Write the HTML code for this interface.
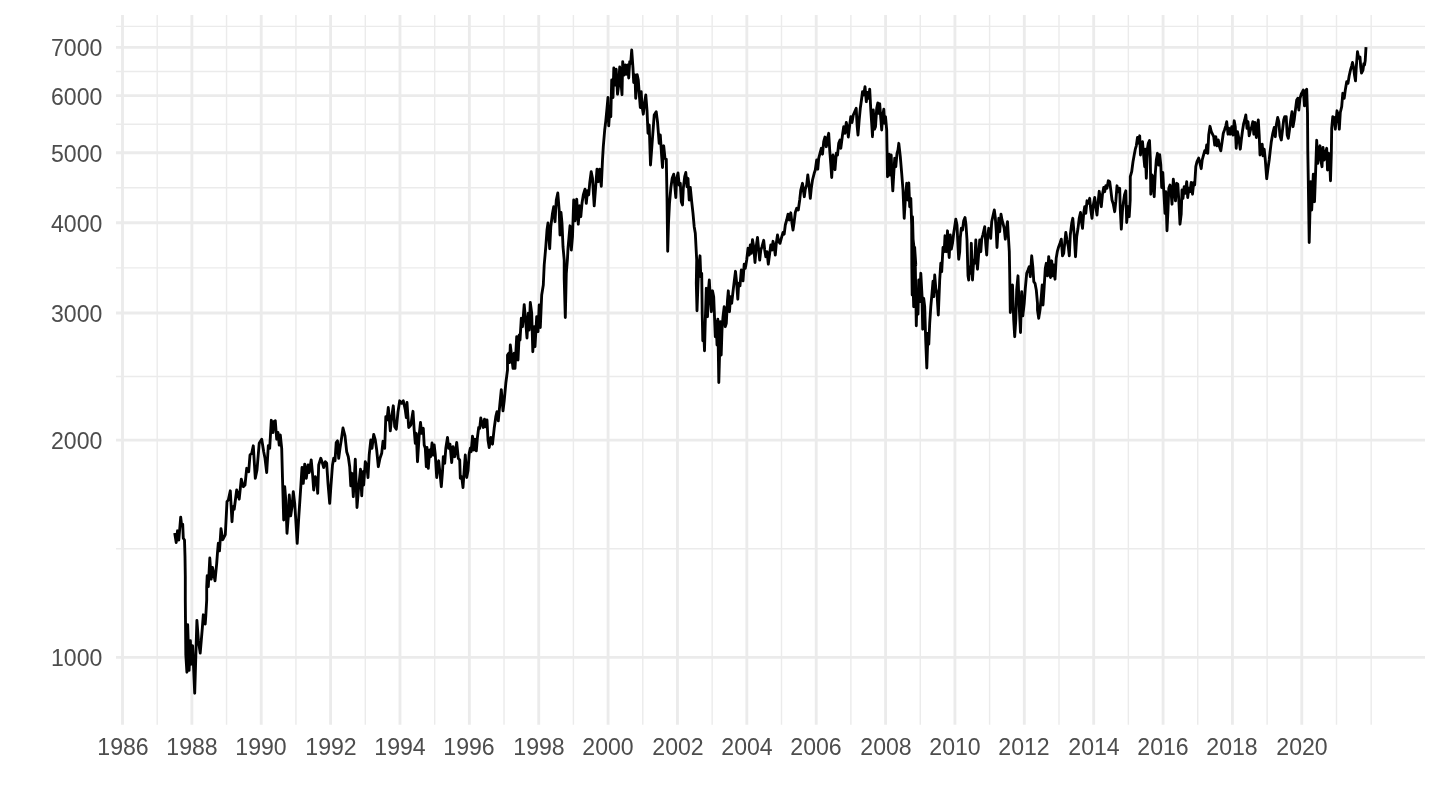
<!DOCTYPE html><html><head><meta charset="utf-8"><style>
html,body{margin:0;padding:0;background:#fff;}body{width:1440px;height:810px;overflow:hidden;position:relative;font-family:"Liberation Sans",sans-serif;}
svg{position:absolute;left:0;top:0;}
.yl{will-change:transform;position:absolute;right:1337.8px;font-size:23.1px;color:#4d4d4d;line-height:24px;height:24px;white-space:nowrap;}
.xl{will-change:transform;position:absolute;top:734.5px;font-size:23.1px;color:#4d4d4d;line-height:24px;height:24px;width:80px;margin-left:-40px;text-align:center;white-space:nowrap;}
</style></head><body>
<svg width="1440" height="810" viewBox="0 0 1440 810">
<rect width="1440" height="810" fill="#fff"/>
<g stroke="#ebebeb" fill="none" stroke-linecap="butt">
<path stroke-width="1.42" d="M116.0 548.74H1425.0"/>
<path stroke-width="1.42" d="M116.0 376.52H1425.0"/>
<path stroke-width="1.42" d="M116.0 267.85H1425.0"/>
<path stroke-width="1.42" d="M116.0 187.78H1425.0"/>
<path stroke-width="1.42" d="M116.0 124.21H1425.0"/>
<path stroke-width="1.42" d="M116.0 71.47H1425.0"/>
<path stroke-width="1.42" d="M116.0 26.37H1425.0"/>
<path stroke-width="1.42" d="M157.19 15.0V724.7"/>
<path stroke-width="1.42" d="M226.56 15.0V724.7"/>
<path stroke-width="1.42" d="M295.93 15.0V724.7"/>
<path stroke-width="1.42" d="M365.30 15.0V724.7"/>
<path stroke-width="1.42" d="M434.67 15.0V724.7"/>
<path stroke-width="1.42" d="M504.04 15.0V724.7"/>
<path stroke-width="1.42" d="M573.40 15.0V724.7"/>
<path stroke-width="1.42" d="M642.78 15.0V724.7"/>
<path stroke-width="1.42" d="M712.14 15.0V724.7"/>
<path stroke-width="1.42" d="M781.52 15.0V724.7"/>
<path stroke-width="1.42" d="M850.88 15.0V724.7"/>
<path stroke-width="1.42" d="M920.26 15.0V724.7"/>
<path stroke-width="1.42" d="M989.62 15.0V724.7"/>
<path stroke-width="1.42" d="M1059.00 15.0V724.7"/>
<path stroke-width="1.42" d="M1128.37 15.0V724.7"/>
<path stroke-width="1.42" d="M1197.74 15.0V724.7"/>
<path stroke-width="1.42" d="M1267.11 15.0V724.7"/>
<path stroke-width="1.42" d="M1336.48 15.0V724.7"/>
<path stroke-width="1.42" d="M1371.16 15.0V724.7"/>
<path stroke-width="2.85" d="M116.0 657.40H1425.0"/>
<path stroke-width="2.85" d="M116.0 440.08H1425.0"/>
<path stroke-width="2.85" d="M116.0 312.95H1425.0"/>
<path stroke-width="2.85" d="M116.0 222.76H1425.0"/>
<path stroke-width="2.85" d="M116.0 152.79H1425.0"/>
<path stroke-width="2.85" d="M116.0 95.63H1425.0"/>
<path stroke-width="2.85" d="M116.0 47.30H1425.0"/>
<path stroke-width="2.85" d="M122.50 15.0V724.7"/>
<path stroke-width="2.85" d="M191.87 15.0V724.7"/>
<path stroke-width="2.85" d="M261.24 15.0V724.7"/>
<path stroke-width="2.85" d="M330.61 15.0V724.7"/>
<path stroke-width="2.85" d="M399.98 15.0V724.7"/>
<path stroke-width="2.85" d="M469.35 15.0V724.7"/>
<path stroke-width="2.85" d="M538.72 15.0V724.7"/>
<path stroke-width="2.85" d="M608.09 15.0V724.7"/>
<path stroke-width="2.85" d="M677.46 15.0V724.7"/>
<path stroke-width="2.85" d="M746.83 15.0V724.7"/>
<path stroke-width="2.85" d="M816.20 15.0V724.7"/>
<path stroke-width="2.85" d="M885.57 15.0V724.7"/>
<path stroke-width="2.85" d="M954.94 15.0V724.7"/>
<path stroke-width="2.85" d="M1024.31 15.0V724.7"/>
<path stroke-width="2.85" d="M1093.68 15.0V724.7"/>
<path stroke-width="2.85" d="M1163.05 15.0V724.7"/>
<path stroke-width="2.85" d="M1232.42 15.0V724.7"/>
<path stroke-width="2.85" d="M1301.79 15.0V724.7"/>
</g>
<path d="M174.7 533.0 L176.2 542.5 L177.5 530.8 L178.8 540.0 L180.7 517.2 L181.7 525.8 L182.7 524.2 L183.3 538.3 L184.5 540.0 L185.0 556.7 L185.3 576.7 L185.3 600.0 L185.8 654.3 L186.9 672.2 L187.7 624.7 L189.1 670.4 L190.4 640.7 L191.2 664.2 L192.6 645.7 L194.7 693.2 L196.9 620.4 L198.4 640.7 L200.2 653.1 L202.3 628.4 L203.3 614.8 L205.2 624.1 L205.8 616.0 L206.7 600.0 L206.7 586.7 L207.2 575.8 L208.3 586.7 L209.8 558.0 L211.2 579.2 L212.5 567.5 L215.0 580.8 L216.7 563.3 L217.5 552.5 L218.3 543.3 L219.5 550.8 L221.0 528.7 L222.8 539.7 L225.3 534.7 L227.0 501.7 L228.3 500.0 L230.3 490.8 L232.0 521.7 L233.0 506.7 L234.2 509.2 L236.7 490.0 L239.2 499.2 L241.3 479.2 L243.3 486.7 L245.0 485.0 L246.7 468.3 L248.7 471.7 L250.0 455.0 L251.7 453.3 L253.3 445.8 L255.3 478.3 L257.0 470.0 L259.2 443.3 L261.7 439.2 L263.7 451.7 L265.0 458.3 L266.7 472.5 L268.3 445.8 L269.7 448.3 L271.3 420.3 L273.0 432.5 L273.7 421.7 L275.3 420.8 L276.7 439.2 L278.0 432.5 L279.2 445.0 L280.3 435.0 L281.7 448.3 L282.5 478.3 L283.7 520.0 L284.7 486.7 L285.8 500.0 L287.0 533.3 L288.3 516.7 L289.3 495.0 L290.7 515.8 L292.0 506.7 L293.3 491.7 L294.7 503.3 L295.8 520.0 L297.2 543.3 L298.8 516.7 L300.8 486.7 L302.0 467.5 L303.3 483.3 L304.7 464.2 L306.3 478.3 L308.0 465.0 L309.2 472.5 L311.2 460.0 L312.5 473.3 L313.7 490.0 L315.3 476.7 L316.7 480.0 L317.7 493.3 L318.7 465.0 L320.8 458.3 L322.5 463.3 L323.7 467.5 L325.3 461.7 L326.7 463.3 L328.0 483.3 L329.7 503.3 L331.0 485.0 L332.5 465.0 L333.7 458.3 L335.0 460.8 L336.2 442.5 L337.5 440.8 L338.7 458.3 L340.0 448.3 L341.3 440.0 L343.0 428.0 L345.0 435.8 L346.7 451.7 L348.3 456.7 L349.7 466.7 L350.8 485.8 L352.0 473.3 L353.3 496.7 L355.3 459.2 L357.0 507.5 L358.7 486.7 L360.5 469.2 L361.7 495.8 L363.0 471.7 L363.7 485.0 L365.3 461.7 L366.7 465.0 L368.0 477.5 L369.2 455.0 L370.8 440.0 L372.0 448.3 L373.7 434.5 L375.3 440.0 L376.7 450.0 L378.3 466.7 L380.0 458.3 L381.7 453.3 L383.0 441.3 L384.7 448.3 L385.8 416.7 L387.0 420.0 L388.3 407.5 L390.3 430.8 L391.7 416.7 L393.3 405.8 L394.7 426.7 L396.3 429.2 L398.0 411.7 L399.7 400.8 L401.7 403.3 L403.3 400.8 L405.3 410.0 L406.3 417.5 L407.0 402.5 L408.7 427.5 L410.8 425.0 L413.0 411.3 L414.2 430.0 L415.3 443.3 L416.3 433.3 L417.5 461.7 L419.2 435.0 L420.5 422.5 L421.7 433.3 L423.3 428.3 L424.2 445.0 L425.3 448.3 L426.3 466.7 L427.0 447.5 L428.3 468.3 L429.7 450.0 L430.8 456.7 L432.0 443.0 L433.3 455.0 L434.2 445.0 L435.3 455.0 L436.7 477.5 L438.0 463.3 L438.7 460.8 L440.0 473.3 L441.3 486.7 L442.5 471.7 L443.3 456.7 L444.7 463.3 L445.8 448.3 L447.5 437.5 L448.7 448.3 L450.0 444.2 L451.7 462.5 L453.0 446.7 L454.7 456.7 L456.7 442.5 L458.3 458.3 L458.3 458.3 L459.7 460.0 L460.3 478.3 L461.7 476.7 L463.0 487.5 L464.2 470.0 L465.3 455.0 L466.7 477.5 L468.0 470.8 L469.2 453.3 L470.3 448.3 L471.2 451.7 L472.5 436.2 L473.7 450.0 L475.0 439.2 L476.3 450.8 L477.5 436.7 L478.7 427.5 L479.7 428.3 L480.8 418.0 L482.5 425.0 L483.3 427.5 L484.5 419.2 L485.8 426.7 L487.0 420.0 L488.0 440.0 L489.2 447.5 L490.8 437.5 L492.5 444.2 L494.2 428.3 L495.8 416.7 L497.0 411.7 L498.3 420.8 L499.7 405.8 L501.3 389.7 L503.0 410.8 L504.2 400.8 L505.8 383.3 L507.5 370.0 L507.5 355.0 L508.7 353.3 L509.7 362.5 L510.3 345.0 L511.7 356.7 L513.0 368.3 L514.2 353.3 L515.0 368.3 L516.7 336.7 L518.0 360.0 L519.2 335.0 L520.0 340.0 L521.3 318.3 L522.5 326.7 L524.2 304.7 L525.3 316.7 L527.0 338.0 L528.3 313.3 L529.2 330.0 L530.3 302.5 L531.7 313.3 L532.8 351.7 L534.2 326.7 L535.0 346.7 L536.7 316.7 L538.0 331.7 L539.2 305.0 L540.3 327.5 L541.7 295.0 L543.3 285.0 L544.2 265.0 L545.8 246.7 L547.0 230.0 L548.0 223.0 L549.7 248.7 L550.8 226.7 L552.5 213.3 L553.7 206.7 L555.0 221.7 L556.3 200.0 L557.8 193.0 L559.2 210.0 L560.0 235.0 L561.0 212.5 L562.0 223.3 L563.0 246.7 L564.2 260.0 L564.2 278.3 L565.3 317.5 L566.3 273.3 L567.5 258.3 L568.0 248.3 L570.0 225.8 L571.3 250.0 L572.5 236.7 L573.7 200.0 L575.0 220.8 L576.7 199.2 L578.3 224.2 L579.7 205.8 L580.8 216.7 L582.0 203.3 L583.3 195.0 L585.0 189.2 L586.3 203.3 L587.5 190.8 L588.7 195.0 L589.7 183.3 L591.2 171.7 L592.5 178.3 L594.2 205.8 L595.3 191.7 L597.0 169.2 L598.3 181.7 L599.7 169.2 L601.3 186.3 L602.5 160.0 L603.3 146.7 L604.7 130.0 L605.8 120.8 L607.0 108.3 L608.0 97.5 L608.7 125.8 L610.0 106.7 L610.8 116.7 L611.7 80.0 L613.0 97.5 L613.8 68.0 L615.0 85.0 L616.2 69.2 L617.5 94.2 L618.7 85.0 L619.7 67.0 L620.8 80.0 L622.0 94.7 L622.7 61.7 L624.2 75.0 L625.5 65.0 L626.7 74.2 L627.8 65.0 L628.7 78.0 L629.7 61.7 L630.7 63.3 L631.7 50.0 L633.0 68.3 L633.7 82.5 L635.0 75.0 L635.7 98.3 L637.2 74.7 L638.3 80.0 L639.2 93.3 L640.3 107.5 L641.2 91.7 L642.0 105.8 L643.3 114.2 L644.5 103.3 L645.8 95.0 L647.0 110.0 L648.0 133.3 L649.2 125.0 L650.5 165.0 L654.2 115.0 L656.2 111.7 L657.5 121.7 L659.2 143.3 L660.3 135.0 L661.7 156.7 L662.5 167.5 L663.7 145.8 L665.0 158.3 L666.3 159.2 L667.0 196.7 L667.7 251.3 L668.5 223.3 L669.5 203.3 L670.8 188.3 L672.2 178.3 L673.7 174.2 L674.7 185.0 L675.8 197.5 L676.7 178.3 L678.0 173.0 L679.2 185.0 L680.3 183.3 L681.3 201.7 L682.5 205.0 L683.3 188.3 L684.7 176.7 L685.8 172.5 L687.0 186.7 L688.0 178.3 L689.2 200.0 L690.3 187.5 L691.7 201.7 L693.0 213.3 L694.2 226.7 L695.3 233.3 L696.7 260.0 L696.3 283.3 L697.0 310.8 L698.0 283.3 L698.8 266.7 L700.0 255.8 L700.8 276.7 L701.7 273.3 L702.2 313.3 L702.8 340.8 L703.7 330.0 L704.5 350.8 L705.3 320.0 L706.3 288.3 L707.5 316.7 L708.3 291.7 L709.3 280.0 L710.3 298.3 L711.3 311.7 L712.5 290.8 L713.7 296.7 L714.5 316.7 L715.3 336.7 L716.2 321.7 L717.0 345.0 L717.8 319.2 L718.8 382.5 L719.7 350.0 L720.3 321.7 L721.2 355.0 L722.0 330.0 L723.0 316.7 L724.2 306.7 L725.3 326.7 L726.3 323.3 L727.5 300.0 L728.3 290.8 L729.5 311.7 L730.5 296.7 L731.7 303.3 L733.0 291.7 L734.2 281.7 L735.5 271.3 L736.7 283.3 L737.8 299.2 L738.7 283.3 L740.0 285.8 L741.3 270.0 L743.0 280.8 L744.2 264.2 L745.3 268.3 L746.7 260.0 L748.0 248.3 L749.2 255.0 L750.3 245.0 L751.3 253.3 L752.5 239.7 L753.7 246.7 L755.0 262.5 L756.2 246.7 L757.5 237.5 L758.7 250.0 L759.7 260.0 L760.8 250.0 L762.0 246.7 L763.7 240.3 L764.7 250.0 L765.8 256.7 L767.0 251.7 L768.3 264.2 L769.7 253.3 L770.8 245.0 L772.0 250.0 L773.0 241.3 L774.2 246.7 L775.3 255.0 L776.3 243.3 L777.5 235.0 L778.7 241.7 L780.0 243.3 L781.3 238.3 L783.0 232.5 L784.2 234.2 L785.3 225.0 L786.7 220.0 L788.0 214.2 L789.2 220.0 L790.8 212.8 L792.0 223.3 L793.0 230.0 L794.2 221.7 L795.3 212.5 L796.7 208.3 L798.3 210.0 L799.7 200.0 L800.8 190.0 L802.5 183.3 L803.3 190.0 L804.3 196.7 L805.3 189.2 L806.7 185.0 L807.8 175.0 L809.2 186.7 L810.3 198.3 L811.3 188.3 L812.5 180.0 L814.2 173.3 L815.3 170.0 L816.7 160.0 L817.8 169.2 L818.7 158.3 L820.0 153.3 L821.3 148.3 L822.5 154.2 L823.7 141.7 L825.0 137.0 L826.3 146.7 L827.5 138.3 L828.7 133.3 L829.7 150.0 L830.8 164.2 L831.7 177.5 L833.0 155.0 L834.2 160.0 L835.0 169.7 L836.3 153.3 L837.5 155.0 L838.7 143.3 L840.0 140.0 L840.8 148.3 L842.5 135.0 L843.7 126.7 L845.0 133.3 L846.3 122.5 L847.5 127.5 L848.3 137.0 L849.7 125.0 L850.8 116.7 L852.0 122.5 L853.3 115.0 L854.7 111.7 L856.2 108.3 L857.2 126.7 L858.0 135.0 L859.2 120.0 L860.3 108.3 L861.7 98.3 L862.5 91.7 L863.7 95.0 L865.0 86.7 L866.3 101.7 L867.5 92.5 L868.7 98.3 L869.7 89.2 L870.8 110.0 L871.7 123.3 L872.5 136.7 L873.3 110.0 L874.5 129.2 L875.5 126.7 L876.7 108.3 L877.8 103.0 L878.7 113.3 L879.7 103.7 L880.8 118.3 L881.7 130.0 L882.8 115.0 L883.8 109.2 L884.7 123.3 L885.5 116.7 L886.7 130.0 L887.5 176.7 L888.3 163.3 L889.2 154.2 L890.0 175.0 L891.2 155.0 L892.0 176.7 L892.8 190.8 L893.7 175.0 L894.7 158.3 L895.8 166.7 L897.0 153.3 L898.0 150.0 L898.8 143.3 L900.3 156.7 L901.7 173.3 L903.0 190.0 L904.2 218.3 L905.3 200.0 L906.7 183.3 L907.8 200.0 L908.8 183.0 L909.7 206.7 L910.8 198.3 L911.7 225.8 L912.5 216.7 L913.3 246.7 L914.7 248.3 L915.8 265.0 L911.7 225.8 L911.8 265.0 L912.2 295.0 L913.0 281.7 L913.7 306.7 L914.7 247.5 L915.3 265.0 L916.3 325.8 L917.2 290.0 L918.0 314.2 L918.7 280.0 L919.7 301.7 L920.8 273.3 L922.0 295.0 L922.7 329.2 L923.7 298.3 L924.7 306.7 L925.7 340.0 L926.8 368.0 L928.0 333.3 L928.8 344.2 L929.7 323.3 L930.8 306.7 L932.0 293.3 L933.0 281.3 L933.8 296.7 L934.7 275.0 L935.8 288.3 L937.0 293.3 L938.3 315.0 L939.7 280.0 L940.8 263.3 L941.7 271.7 L943.0 247.5 L944.2 251.7 L945.0 235.8 L946.3 251.7 L947.5 230.8 L948.3 246.7 L949.2 257.5 L950.3 235.0 L951.3 249.2 L952.5 243.3 L953.7 233.3 L954.7 226.7 L955.8 219.2 L957.0 225.0 L958.0 246.7 L958.7 259.2 L959.7 251.7 L960.3 237.5 L961.3 228.3 L962.5 230.0 L963.7 220.8 L965.0 217.5 L966.0 225.0 L967.0 240.0 L968.0 275.8 L968.7 280.0 L969.7 266.7 L970.7 273.3 L971.3 243.3 L972.5 280.0 L973.7 260.0 L974.7 263.3 L975.8 240.0 L976.7 260.0 L977.5 269.2 L978.7 253.3 L979.7 240.0 L980.8 251.7 L981.7 239.2 L982.8 235.0 L984.7 226.7 L985.7 243.3 L986.7 255.0 L987.7 236.7 L988.7 228.3 L989.7 230.0 L990.7 238.3 L991.7 221.7 L993.0 215.8 L994.3 210.0 L995.3 217.5 L996.3 231.7 L997.0 247.5 L998.0 230.0 L998.8 218.3 L999.7 231.7 L1001.0 214.2 L1002.0 220.0 L1003.0 223.3 L1004.2 228.3 L1005.3 239.2 L1006.3 230.0 L1007.5 221.7 L1008.3 235.0 L1009.3 251.7 L1009.7 273.3 L1010.3 312.5 L1011.3 298.3 L1012.5 285.0 L1013.7 320.0 L1014.7 336.7 L1015.8 320.0 L1016.7 290.0 L1018.0 275.8 L1019.2 306.7 L1020.5 332.5 L1021.7 291.7 L1022.8 315.8 L1024.2 303.3 L1025.3 288.3 L1026.7 273.3 L1028.0 270.0 L1029.2 266.7 L1030.3 276.7 L1031.7 255.8 L1032.8 266.7 L1033.8 281.7 L1035.0 283.3 L1036.3 290.0 L1037.5 303.3 L1037.5 310.0 L1038.7 318.3 L1040.0 310.0 L1041.3 296.7 L1042.2 285.0 L1043.0 305.0 L1044.2 286.7 L1045.3 268.3 L1046.3 263.3 L1047.5 275.8 L1048.7 256.7 L1049.7 266.7 L1050.5 277.5 L1051.7 260.8 L1052.8 275.8 L1053.8 265.0 L1055.0 279.2 L1056.2 258.3 L1057.3 251.7 L1058.7 246.7 L1060.0 243.3 L1061.3 239.2 L1062.5 255.8 L1063.7 253.3 L1064.7 243.3 L1065.8 232.5 L1067.0 240.0 L1068.3 246.7 L1069.3 255.8 L1070.3 235.0 L1071.7 223.3 L1072.8 218.3 L1074.2 235.0 L1075.5 256.7 L1076.7 236.7 L1078.0 228.3 L1079.2 218.3 L1080.5 212.5 L1081.7 223.3 L1082.5 228.3 L1083.7 213.3 L1084.7 206.7 L1085.8 213.3 L1087.0 200.8 L1088.3 203.3 L1089.7 198.3 L1090.8 210.0 L1092.0 218.3 L1093.3 205.0 L1094.7 197.5 L1095.8 206.7 L1097.0 215.0 L1098.0 203.3 L1099.2 191.3 L1100.3 198.3 L1101.3 206.7 L1102.5 194.2 L1103.7 187.5 L1104.7 191.7 L1105.8 185.8 L1107.0 188.3 L1108.3 180.8 L1109.7 181.7 L1110.8 190.0 L1112.0 200.0 L1113.3 204.2 L1114.7 211.7 L1115.8 201.7 L1117.0 185.8 L1118.3 191.7 L1119.7 188.3 L1120.3 210.0 L1121.3 229.2 L1122.5 210.0 L1123.3 203.3 L1124.5 195.0 L1125.8 190.8 L1126.7 222.5 L1128.0 206.7 L1129.2 216.7 L1130.2 200.0 L1130.3 176.7 L1131.7 171.7 L1133.0 161.7 L1134.2 155.0 L1135.3 149.2 L1136.3 145.8 L1137.5 137.5 L1138.7 143.3 L1139.7 135.8 L1140.5 155.0 L1141.3 145.8 L1142.5 141.7 L1143.7 155.8 L1144.7 166.7 L1145.3 149.2 L1146.3 178.3 L1147.5 148.3 L1148.3 143.3 L1149.5 140.5 L1150.3 158.3 L1150.8 194.2 L1152.0 175.0 L1152.8 176.7 L1154.2 196.7 L1155.3 173.3 L1156.3 160.0 L1157.5 153.3 L1158.7 165.0 L1159.7 154.7 L1160.8 165.0 L1161.7 187.5 L1162.8 172.5 L1163.8 191.7 L1165.0 213.3 L1165.8 191.7 L1167.0 230.8 L1168.0 210.0 L1168.8 188.3 L1170.0 185.0 L1171.0 191.7 L1172.0 204.2 L1173.3 179.2 L1174.5 190.0 L1175.5 200.8 L1176.7 183.3 L1177.8 184.2 L1178.8 200.0 L1180.0 224.2 L1181.2 214.2 L1182.0 190.0 L1183.0 198.3 L1184.2 186.7 L1185.3 193.3 L1186.7 181.7 L1187.7 197.5 L1188.8 188.3 L1190.0 191.7 L1191.2 182.5 L1192.5 194.2 L1193.7 182.5 L1194.7 185.0 L1195.8 166.7 L1197.0 161.7 L1198.7 158.0 L1200.0 163.3 L1201.2 168.7 L1202.2 160.0 L1203.3 155.8 L1204.7 150.8 L1205.8 152.5 L1206.7 145.0 L1207.8 153.3 L1208.7 135.0 L1210.0 126.3 L1211.3 131.7 L1212.5 134.2 L1213.7 136.7 L1214.7 145.0 L1215.8 136.7 L1217.0 145.8 L1218.3 140.0 L1219.5 146.7 L1220.8 150.8 L1222.0 142.5 L1223.3 133.3 L1224.5 130.0 L1225.8 125.8 L1226.7 121.7 L1228.0 134.2 L1229.2 128.3 L1230.3 134.2 L1231.7 126.7 L1233.0 135.0 L1234.2 120.8 L1235.3 126.7 L1236.2 148.3 L1237.5 131.7 L1238.7 137.5 L1240.3 149.2 L1241.3 140.0 L1242.5 130.8 L1243.7 123.3 L1244.7 120.0 L1245.8 115.0 L1247.0 128.3 L1248.0 121.7 L1249.2 135.8 L1250.5 130.0 L1251.7 126.7 L1252.8 121.7 L1253.8 134.2 L1255.0 122.5 L1256.3 137.5 L1257.2 128.3 L1258.3 120.0 L1259.2 135.0 L1260.0 155.0 L1261.3 150.0 L1262.2 144.2 L1263.0 155.8 L1264.2 149.2 L1265.3 160.0 L1266.7 178.7 L1268.0 168.3 L1269.2 160.0 L1270.3 150.0 L1271.3 141.7 L1272.8 133.3 L1274.2 127.5 L1275.3 136.7 L1276.3 125.0 L1277.7 117.5 L1278.8 121.7 L1280.0 135.8 L1281.3 140.0 L1282.5 130.0 L1283.7 120.0 L1284.7 116.7 L1286.2 116.7 L1287.2 135.0 L1288.3 138.3 L1289.7 128.3 L1290.8 119.2 L1292.0 111.7 L1293.0 126.7 L1294.2 120.0 L1295.3 110.8 L1296.7 100.0 L1297.8 98.3 L1298.8 110.0 L1300.0 98.3 L1301.2 94.2 L1302.5 91.7 L1303.3 90.0 L1304.5 105.8 L1305.3 91.7 L1306.7 89.2 L1307.5 113.3 L1307.8 151.7 L1308.3 181.7 L1309.2 242.5 L1310.0 210.0 L1310.8 181.7 L1311.7 210.0 L1312.5 193.3 L1313.3 174.2 L1314.5 201.7 L1315.5 175.0 L1316.7 140.3 L1317.8 163.3 L1318.7 150.0 L1320.0 145.8 L1320.8 160.0 L1322.0 166.7 L1323.0 147.5 L1324.2 160.0 L1325.3 153.3 L1326.7 148.3 L1327.5 170.0 L1328.7 153.3 L1329.7 161.7 L1330.5 180.8 L1331.3 155.0 L1331.7 128.3 L1332.8 116.7 L1334.2 117.5 L1335.3 129.2 L1336.3 118.3 L1337.0 110.8 L1338.3 115.0 L1339.3 129.2 L1340.3 112.5 L1341.7 106.7 L1342.8 93.3 L1344.2 98.3 L1345.3 90.0 L1346.7 81.7 L1348.0 83.3 L1349.2 75.8 L1350.5 70.0 L1351.7 65.8 L1352.5 62.5 L1353.7 68.3 L1354.5 75.0 L1355.5 80.8 L1356.3 66.7 L1357.5 51.7 L1358.7 58.3 L1360.0 57.0 L1360.7 66.7 L1361.5 73.0 L1363.0 70.0 L1363.8 63.7 L1364.5 65.0 L1365.2 60.8 L1366.0 47.2" fill="none" stroke="#000" stroke-width="2.85" stroke-linejoin="round" stroke-linecap="butt"/>
</svg>
<div class="yl" style="top:646.3px">1000</div>
<div class="yl" style="top:429.0px">2000</div>
<div class="yl" style="top:301.9px">3000</div>
<div class="yl" style="top:211.7px">4000</div>
<div class="yl" style="top:141.7px">5000</div>
<div class="yl" style="top:84.5px">6000</div>
<div class="yl" style="top:36.2px">7000</div>
<div class="xl" style="left:122.5px">1986</div>
<div class="xl" style="left:191.9px">1988</div>
<div class="xl" style="left:261.2px">1990</div>
<div class="xl" style="left:330.6px">1992</div>
<div class="xl" style="left:400.0px">1994</div>
<div class="xl" style="left:469.4px">1996</div>
<div class="xl" style="left:538.7px">1998</div>
<div class="xl" style="left:608.1px">2000</div>
<div class="xl" style="left:677.5px">2002</div>
<div class="xl" style="left:746.8px">2004</div>
<div class="xl" style="left:816.2px">2006</div>
<div class="xl" style="left:885.6px">2008</div>
<div class="xl" style="left:954.9px">2010</div>
<div class="xl" style="left:1024.3px">2012</div>
<div class="xl" style="left:1093.7px">2014</div>
<div class="xl" style="left:1163.1px">2016</div>
<div class="xl" style="left:1232.4px">2018</div>
<div class="xl" style="left:1301.8px">2020</div>
</body></html>
